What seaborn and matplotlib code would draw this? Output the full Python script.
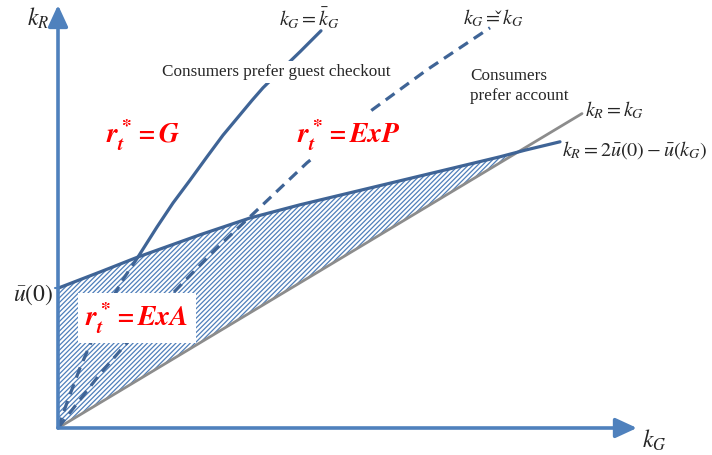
import numpy as np
import matplotlib
matplotlib.use("Agg")
import matplotlib.pyplot as plt
import seaborn as sns

# k_R = 2u(0) - u(k_G) boundary
kG_upper = [0.0, 0.42, 0.80, 1.42, 1.92, 2.42, 2.92, 3.42, 3.92, 4.42, 4.67, 5.02]
kR_upper = [2.33, 2.60, 2.85, 3.22, 3.50, 3.72, 3.92, 4.12, 4.32, 4.52, 4.63, 4.77]

# k_G = k-bar_G boundary (dashed below the upper curve, solid above)
kG_bar_x = [0.0, 0.10, 0.22, 0.37, 0.52, 0.66, 0.80,
            0.99, 1.15, 1.32, 1.49, 1.65, 1.82, 1.94, 2.05, 2.24, 2.42, 2.63]
kG_bar_y = [0.0, 0.47, 1.00, 1.58, 2.10, 2.50, 2.85,
            3.35, 3.75, 4.13, 4.52, 4.88, 5.22, 5.46, 5.67, 5.98, 6.27, 6.62]
bar_split = 6

# k_G = k-check_G boundary (dashed)
kG_chk_x = [0.0, 0.42, 0.82, 1.22, 1.57, 1.92, 2.49, 3.14, 3.69, 4.32]
kG_chk_y = [0.0, 0.90, 1.67, 2.37, 2.97, 3.52, 4.42, 5.30, 5.97, 6.67]

# k_R = k_G diagonal
kG_diag = [0.0, 5.24]

dark_blue = "#3F6496"
axis_blue = "#4F81BD"
hatch_blue = "#4F7FBA"
grey = "#8C8C8C"

sns.set_style("white")
plt.rcParams["mathtext.fontset"] = "stix"
plt.rcParams["font.family"] = ["Liberation Serif", "DejaVu Serif"]
plt.rcParams["hatch.linewidth"] = 0.9

fig = plt.figure(figsize=(7.12, 4.55), dpi=100)
ax = fig.add_axes([0, 0, 1, 1])
ax.set_xlim(-0.58, 6.54)
ax.set_ylim(-0.45, 7.133)
ax.axis("off")

# hatched region between the upper curve and the diagonal
xu = np.array(kG_upper)
yu = np.array(kR_upper)
ax.fill_between(xu, xu, yu, where=yu >= xu, interpolate=True,
                facecolor="none", edgecolor=hatch_blue, linewidth=0,
                hatch="///////", zorder=1)

dash = (0, (3.4, 2.2))
sns.lineplot(x=kG_diag, y=kG_diag, color=grey, linewidth=2.0, ax=ax, zorder=2)
sns.lineplot(x=kG_upper, y=kR_upper, color=dark_blue, linewidth=2.3, ax=ax,
             sort=False, zorder=3)
sns.lineplot(x=kG_bar_x[:bar_split + 1], y=kG_bar_y[:bar_split + 1], color=dark_blue,
             linewidth=2.3, linestyle=dash, ax=ax, sort=False, zorder=3)
sns.lineplot(x=kG_bar_x[bar_split:], y=kG_bar_y[bar_split:], color=dark_blue,
             linewidth=2.3, ax=ax, sort=False, zorder=3)
sns.lineplot(x=kG_chk_x, y=kG_chk_y, color=dark_blue, linewidth=2.3,
             linestyle=dash, ax=ax, sort=False, zorder=3)

# axes arrows
arrow = dict(arrowstyle="-|>,head_length=0.65,head_width=0.3", color=axis_blue,
             lw=2.6, shrinkA=0, shrinkB=0, mutation_scale=20)
ax.annotate("", xy=(5.79, 0), xytext=(0, 0), arrowprops=arrow, zorder=5)
ax.annotate("", xy=(0, 7.05), xytext=(0, 0), arrowprops=arrow, zorder=5)
ax.plot([-0.03, 0], [2.33, 2.33], color=axis_blue, lw=1.5, zorder=5)

# labels
eq_size = 14.5
sym_size = 17
ax.text(-0.2, 6.83, r"$k_R$", fontsize=sym_size, ha="center", va="center")
ax.text(5.96, -0.2, r"$k_G$", fontsize=sym_size, ha="center", va="center")
ax.text(-0.05, 2.22, r"$\bar{u}(0)$", fontsize=sym_size, ha="right", va="center")
ax.text(2.52, 6.83, r"$k_G=\bar{k}_G$", fontsize=eq_size, ha="center", va="center")
ax.text(4.35, 6.83, r"$k_G=\check{k}_G$", fontsize=eq_size, ha="center", va="center")
ax.text(5.27, 5.30, r"$k_R=k_G$", fontsize=eq_size, ha="left", va="center")
ax.text(5.04, 4.63, r"$k_R=2\bar{u}(0)-\bar{u}(k_G)$", fontsize=eq_size,
        ha="left", va="center")

white_box = dict(facecolor="white", edgecolor="none", pad=2)
ax.text(2.18, 5.93, "Consumers prefer guest checkout", fontsize=12.3,
        ha="center", va="center", bbox=white_box, zorder=6)
ax.text(4.12, 5.70, "Consumers\nprefer account", fontsize=12.3,
        ha="left", va="center", linespacing=1.35, zorder=6)

red_size = 20
ax.text(0.85, 4.88, r"$\mathbfit{r_t^* = G}$", color="red", fontsize=red_size,
        ha="center", va="center", bbox=white_box, zorder=6)
ax.text(2.91, 4.88, r"$\mathbfit{r_t^* = ExP}$", color="red", fontsize=red_size,
        ha="center", va="center", bbox=dict(facecolor="white", edgecolor="none", pad=4), zorder=6)
ax.text(0.79, 1.83, r"$\mathbfit{r_t^* = ExA}$", color="red", fontsize=red_size,
        ha="center", va="center", bbox=dict(facecolor="white", edgecolor="none", pad=5), zorder=6)

fig.savefig("out.png", dpi=100)
